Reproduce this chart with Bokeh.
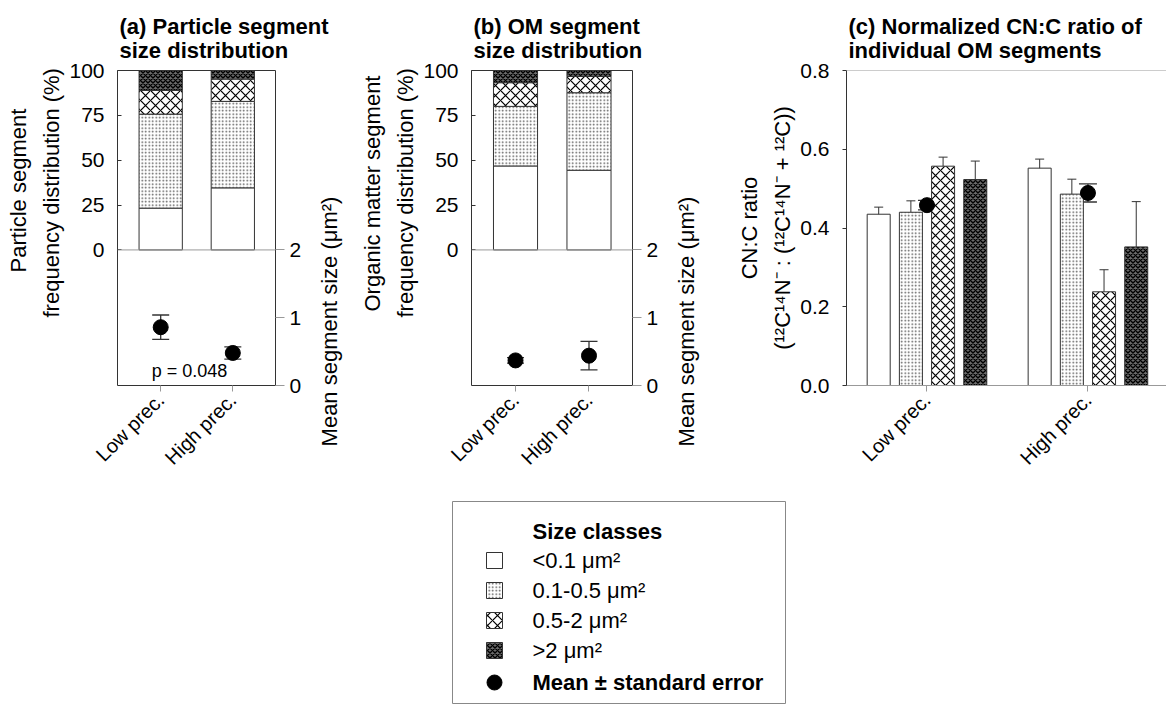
import math
import numpy as np
from bokeh.plotting import figure
from bokeh.models import (Range1d, LinearAxis, FixedTicker, Whisker, ColumnDataSource,
                          Span, TeeHead, Spacer, NumeralTickFormatter, Label, Title)
from bokeh.layouts import row, column
from bokeh.embed import file_html
from bokeh.resources import INLINE
from bokeh.core.properties import value

FONT = "Liberation Sans"

# ---------------- data ----------------
treatments = ["Low prec.", "High prec."]
size_classes = ["<0.1 μm²", "0.1-0.5  μm²", "0.5-2  μm²", ">2  μm²"]

# (a) particle segments: share of each size class (%)
particle_low = [23.3, 52.4, 13.2, 11.1]
particle_high = [34.6, 48.2, 12.4, 4.8]
particle_mean_size = [0.86, 0.48]
particle_mean_se = [0.18, 0.09]
particle_p_text = "p = 0.048"

# (b) OM segments: share of each size class (%)
om_low = [46.8, 33.2, 13.2, 6.8]
om_high = [44.4, 43.2, 9.1, 3.3]
om_mean_size = [0.37, 0.44]
om_mean_se = [0.04, 0.21]

# (c) normalized CN:C ratio per size class
cn_low = [0.435, 0.440, 0.557, 0.523]
cn_low_se = [0.018, 0.029, 0.023, 0.047]
cn_high = [0.552, 0.486, 0.238, 0.352]
cn_high_se = [0.023, 0.038, 0.056, 0.115]
cn_mean = [0.458, 0.489]
cn_mean_se = [0.012, 0.023]

pct_ticks = [0, 25, 50, 75, 100]
size_ticks = [0, 1, 2]
cn_ticks = [0.0, 0.2, 0.4, 0.6, 0.8]

ylabels_a = ["Particle segment", "frequency distribution (%)"]
ylabels_b = ["Organic matter segment", "frequency distribution (%)"]
ylabel_size = "Mean segment size (μm²)"
ylabels_c = ["CN:C ratio", "(¹²C¹⁴N⁻ : (¹²C¹⁴N⁻ + ¹²C))"]

# ---------------- styles ----------------
CLASS_STYLES = [
    dict(fill_color="white"),
    dict(fill_color="white", hatch_pattern="dot", hatch_color="#444", hatch_scale=3.5,
         hatch_weight=1.0, hatch_alpha=0.9),
    dict(fill_color="white", hatch_pattern="diagonal_cross", hatch_color="black",
         hatch_scale=10, hatch_weight=1.2),
    dict(fill_color="#6a6a6a", hatch_pattern="diagonal_cross", hatch_color="black",
         hatch_scale=5, hatch_weight=1.4),
]
DARK = "#333333"
GRAY = "#999999"


def style_common(p):
    p.grid.visible = False
    p.background_fill_color = "white"
    p.border_fill_color = "white"
    p.title.text_font = FONT
    p.title.text_font_size = "22px"
    p.title.text_font_style = "bold"
    p.title.text_color = "black"
    p.title.text_line_height = 0.95
    p.title.standoff = 15
    p.title.offset = 2


def style_axis(ax, size="21px"):
    ax.major_label_text_font = FONT
    ax.major_label_text_font_size = size
    ax.major_label_text_color = "black"
    ax.minor_tick_line_color = None


def side_title(p, text, align, offset, standoff):
    p.add_layout(Title(text=text, align=align, offset=offset, standoff=standoff,
                       text_font=FONT, text_font_size="22px", text_font_style="normal",
                       text_color="black"), "left")


def right_vlabel(p, x, y, text):
    # label living in the right side panel; x, y in pixels of that panel
    p.add_layout(Label(x=x, y=y, x_units="screen", y_units="screen", text=text,
                       angle=math.pi / 2, text_align="center", text_baseline="middle",
                       text_font=FONT, text_font_size="22px", text_color="black"), "right")


def stacked_panel(title, ylabels, label_offsets, low, high, mean, se, width, left,
                  p_text=None):
    x_idx = list(range(len(treatments)))
    p = figure(width=width, height=480,
               x_range=Range1d(-0.599, 1.592), y_range=Range1d(-75.56, 100),
               output_backend="svg", toolbar_location=None,
               min_border_left=left, min_border_right=width - left - 161,
               min_border_top=70, min_border_bottom=94, title=title)
    style_common(p)
    p.outline_line_color = DARK
    p.outline_line_width = 1

    cum_low = np.cumsum([0] + low)
    cum_high = np.cumsum([0] + high)
    for k, st in enumerate(CLASS_STYLES):
        src = ColumnDataSource(dict(x=x_idx,
                                    bottom=[cum_low[k], cum_high[k]],
                                    top=[cum_low[k + 1], cum_high[k + 1]]))
        p.vbar(x="x", bottom="bottom", top="top", width=0.6, source=src,
               line_color=DARK, line_width=1, **st)

    p.add_layout(Span(location=0, dimension="width", line_color=GRAY, line_width=1))

    ya = p.yaxis[0]
    ya.ticker = FixedTicker(ticks=pct_ticks)
    ya.bounds = (0, 100)
    ya.axis_line_color = None
    ya.major_tick_line_color = DARK
    ya.major_tick_in = 4
    ya.major_tick_out = 0
    ya.major_label_standoff = 13
    style_axis(ya)
    side_title(p, ylabels[1], "left", label_offsets[1], 6)
    side_title(p, ylabels[0], "left", label_offsets[0], 6)

    xa = p.xaxis[0]
    xa.ticker = FixedTicker(ticks=x_idx)
    xa.major_label_overrides = {i: t for i, t in enumerate(treatments)}
    xa.major_label_orientation = math.pi / 4
    xa.axis_line_color = None
    xa.major_tick_line_color = GRAY
    xa.major_tick_in = 0
    xa.major_tick_out = 6
    style_axis(xa, "20px")

    p.extra_y_ranges = {"size": Range1d(0, 4.647)}
    ra = LinearAxis(y_range_name="size", ticker=FixedTicker(ticks=size_ticks), bounds=(0, 2))
    ra.axis_line_color = None
    ra.major_tick_line_color = GRAY
    ra.major_tick_in = 0
    ra.major_tick_out = 9
    style_axis(ra)
    p.add_layout(ra, "right")
    right_vlabel(p, 25, 64, ylabel_size)

    msrc = ColumnDataSource(dict(x=x_idx, y=mean,
                                 upper=[m + s for m, s in zip(mean, se)],
                                 lower=[m - s for m, s in zip(mean, se)]))
    p.add_layout(Whisker(source=msrc, base="x", upper="upper", lower="lower",
                         y_range_name="size", line_color=DARK, line_width=1.3,
                         upper_head=TeeHead(size=17, line_color=DARK, line_width=1.3),
                         lower_head=TeeHead(size=17, line_color=DARK, line_width=1.3)))
    p.scatter("x", "y", source=msrc, size=15, color="black", y_range_name="size")

    if p_text:
        p.add_layout(Label(x=0.4, y=0.21, y_range_name="size", text=p_text,
                           text_align="center", text_baseline="middle",
                           text_font=FONT, text_font_size="18px", text_color="black"))
    return p


pa = stacked_panel("(a) Particle segment\nsize distribution", ylabels_a, [113, 68],
                   particle_low, particle_high, particle_mean_size, particle_mean_se,
                   width=350, left=114, p_text=particle_p_text)
pb = stacked_panel("(b) OM segment\nsize distribution", ylabels_b, [74, 68],
                   om_low, om_high, om_mean_size, om_mean_se,
                   width=350, left=121)

# ---------------- panel (c) ----------------
group_idx = list(range(len(treatments)))
offsets = [-0.3, -0.1, 0.1, 0.3]
pc = figure(width=466, height=480, x_range=Range1d(-0.5, 1.488), y_range=Range1d(0, 0.8),
            output_backend="svg", toolbar_location=None,
            min_border_left=146, min_border_right=0, min_border_top=65, min_border_bottom=95,
            title="(c) Normalized CN:C ratio of\nindividual OM segments")
style_common(pc)
pc.outline_line_color = None
for k, st in enumerate(CLASS_STYLES):
    vals = [cn_low[k], cn_high[k]]
    ses = [cn_low_se[k], cn_high_se[k]]
    xs = [g + offsets[k] for g in group_idx]
    src = ColumnDataSource(dict(x=xs, top=vals,
                                upper=[v + s for v, s in zip(vals, ses)],
                                lower=[v - s for v, s in zip(vals, ses)]))
    pc.vbar(x="x", top="top", bottom=0, width=0.143, source=src,
            line_color=DARK, line_width=1, **st)
    pc.add_layout(Whisker(source=src, base="x", upper="upper", lower="lower",
                          line_color=DARK, line_width=1,
                          upper_head=TeeHead(size=9, line_color=DARK, line_width=1),
                          lower_head=TeeHead(size=9, line_color=DARK, line_width=1)))

csrc = ColumnDataSource(dict(x=group_idx, y=cn_mean,
                             upper=[m + s for m, s in zip(cn_mean, cn_mean_se)],
                             lower=[m - s for m, s in zip(cn_mean, cn_mean_se)]))
pc.add_layout(Whisker(source=csrc, base="x", upper="upper", lower="lower",
                      line_color=DARK, line_width=1.3,
                      upper_head=TeeHead(size=18, line_color=DARK, line_width=1.3),
                      lower_head=TeeHead(size=18, line_color=DARK, line_width=1.3)))
pc.scatter("x", "y", source=csrc, size=15, color="black")
pc.add_layout(Span(location=0.8, dimension="width", line_color=GRAY, line_width=1))

cy = pc.yaxis[0]
cy.ticker = FixedTicker(ticks=cn_ticks)
cy.formatter = NumeralTickFormatter(format="0.0")
cy.axis_line_color = DARK
cy.major_tick_line_color = DARK
cy.major_tick_in = 0
cy.major_tick_out = 4
cy.major_label_standoff = 13
style_axis(cy)
side_title(pc, ylabels_c[1], "center", 0, 6)
side_title(pc, ylabels_c[0], "center", 0, 6)

cx = pc.xaxis[0]
cx.ticker = FixedTicker(ticks=group_idx)
cx.major_label_overrides = {i: t for i, t in enumerate(treatments)}
cx.major_label_orientation = math.pi / 4
cx.axis_line_color = GRAY
cx.major_tick_line_color = GRAY
cx.major_tick_in = 0
cx.major_tick_out = 6
style_axis(cx, "20px")

# ---------------- legend ----------------
pl = figure(width=334, height=229, x_range=Range1d(0, 334), y_range=Range1d(0, 202),
            output_backend="svg", toolbar_location=None, x_axis_type=None, y_axis_type=None,
            min_border_left=0, min_border_right=0, min_border_top=21, min_border_bottom=6)
pl.grid.visible = False
pl.outline_line_color = "#888888"
row_y = [143, 113, 83, 53]
for k, st in enumerate(CLASS_STYLES):
    pl.rect(x=[42], y=[row_y[k]], width=16, height=16, line_color=DARK, line_width=1, **st)
pl.scatter(x=[42], y=[21], size=15, color="black")
pl.text(x=[80] * len(size_classes), y=row_y, text=size_classes, text_font=value(FONT),
        text_font_size="22px", text_baseline="middle", text_align="left", text_color="black")
pl.text(x=[80, 80], y=[172, 21], text=["Size classes", "Mean ± standard error"],
        text_font=value(FONT), text_font_size="22px", text_font_style="bold",
        text_baseline="middle", text_align="left", text_color="black")

layout = column(row(pa, pb, pc), row(Spacer(width=452, height=229), pl))

with open("out.html", "w") as f:
    f.write(file_html(layout, INLINE))
